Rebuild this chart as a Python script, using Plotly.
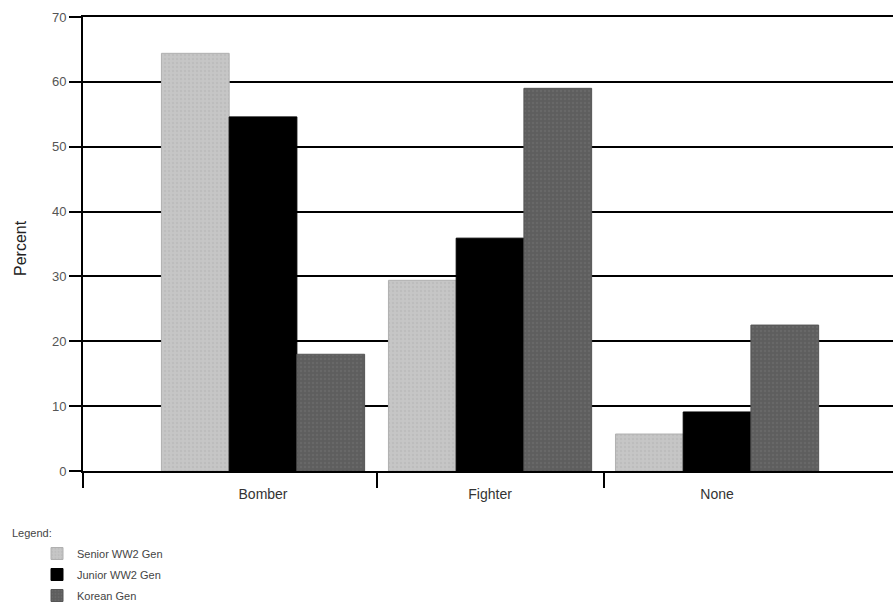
import plotly.graph_objects as go

categories = ["Bomber", "Fighter", "None"]
series_names = ["Senior WW2 Gen", "Junior WW2 Gen", "Korean Gen"]
senior_vals = [64.4, 29.4, 5.7]
junior_vals = [54.6, 35.9, 9.1]
korean_vals = [18.0, 59.0, 22.5]
y_ticks = [0, 10, 20, 30, 40, 50, 60, 70]

colors = ["#c6c6c6", "#000000", "#5e5e5e"]
pattern_fg = ["#b4b4b4", "#000000", "#727272"]
line_cols = ["#b0b0b0", "#000000", "#555555"]

xpos = list(range(len(categories)))
fig = go.Figure()
for name, vals, c, pf, lc in zip(series_names, [senior_vals, junior_vals, korean_vals], colors, pattern_fg, line_cols):
    fig.add_trace(go.Bar(
        x=xpos, y=vals, name=name, legendgroup=name,
        marker=dict(color=c, line=dict(color=lc, width=1),
                    pattern=dict(shape="." if name != "Junior WW2 Gen" else "", fgcolor=pf, size=4, solidity=0.3)),
    ))

# invisible trace to host the separator-tick axis
fig.add_trace(go.Scatter(x=[xpos[0]], y=[0], xaxis="x2", mode="markers",
                         marker=dict(opacity=0), showlegend=False, hoverinfo="skip"))

W, H = 893, 607
L, T = 83, 17
B = H - 471
plot_w, plot_h = W - L, H - T - B

xr = [-0.793, 2.775]
font = "Liberation Sans, Arial, sans-serif"

fig.update_layout(
    width=W, height=H,
    margin=dict(l=L, r=0, t=T, b=B, autoexpand=False),
    paper_bgcolor="white", plot_bgcolor="white",
    barmode="group", bargap=0.105, bargroupgap=0,
    font=dict(family=font, size=13, color="#333333"),
    xaxis=dict(range=xr, tickvals=xpos, ticktext=categories,
               ticks="outside", ticklen=9, tickcolor="rgba(0,0,0,0)",
               showgrid=False, zeroline=False, showline=True, mirror=True,
               linecolor="black", linewidth=2, automargin=False,
               tickfont=dict(size=14, color="#333333")),
    xaxis2=dict(range=xr, overlaying="x", anchor="y", side="bottom",
                tickvals=[xr[0] + 0.001, 0.5, 1.5], ticks="outside", ticklen=16,
                tickwidth=2, tickcolor="black", showticklabels=False,
                showgrid=False, zeroline=False, showline=False, automargin=False),
    yaxis=dict(range=[0, 70], tickvals=y_ticks, ticks="outside", ticklen=12,
               tickwidth=2, tickcolor="black", showgrid=True, gridcolor="black",
               gridwidth=2, zeroline=False, showline=True, linecolor="black",
               linewidth=2, automargin=False, tickfont=dict(size=13, color="#555555")),
    legend=dict(xref="container", yref="container", x=37 / W, y=1 - 539 / H,
                xanchor="left", yanchor="top", orientation="v", traceorder="grouped",
                font=dict(size=11, color="#444444"), itemwidth=30,
                tracegroupgap=2, bgcolor="rgba(0,0,0,0)"),
    annotations=[
        dict(text="Legend:", xref="paper", yref="paper",
             x=(10 - 83) / plot_w, y=-(533 - 471) / plot_h,
             xanchor="left", yanchor="middle", showarrow=False,
             font=dict(size=11, color="#444444")),
        dict(text="Percent", xref="paper", yref="paper", textangle=-90,
             x=(20 - 83) / plot_w, y=(471 - 248) / plot_h,
             xanchor="center", yanchor="middle", showarrow=False,
             font=dict(size=16, color="#222222")),
    ],
)

fig.write_html("out.html",
               config={"displayModeBar": False},
               post_script="document.body.style.margin='0';document.body.style.overflow='hidden';")
